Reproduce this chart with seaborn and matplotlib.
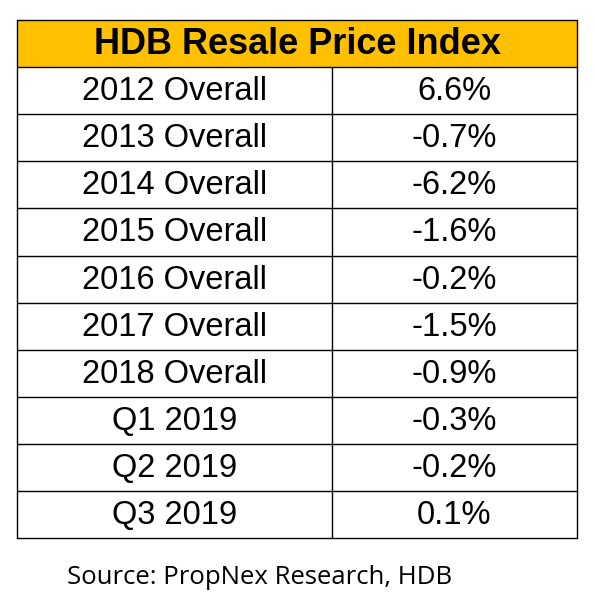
import matplotlib
matplotlib.use("Agg")
import matplotlib.pyplot as plt
import seaborn as sns
from matplotlib.patches import Rectangle

sns.set_style("white")
plt.rcParams['font.family'] = ['Liberation Sans', 'DejaVu Sans']
plt.rcParams['text.color'] = 'black'

title = "HDB Resale Price Index"
periods = ["2012 Overall", "2013 Overall", "2014 Overall", "2015 Overall", "2016 Overall",
           "2017 Overall", "2018 Overall", "Q1 2019", "Q2 2019", "Q3 2019"]
changes = ["6.6%", "-0.7%", "-6.2%", "-1.6%", "-0.2%", "-1.5%", "-0.9%", "-0.3%", "-0.2%", "0.1%"]
source = "Source: PropNex Research, HDB"

fig = plt.figure(figsize=(5.95, 5.99), dpi=100)
ax = fig.add_axes([0, 0, 1, 1])
ax.set_xlim(0, 595)
ax.set_ylim(599, 0)
ax.axis("off")

x0, x1, xm = 17, 577, 332
y0, rh = 20, 47.1
n = len(periods) + 1

ax.add_patch(Rectangle((x0, y0), x1 - x0, rh, facecolor="#FFC000", edgecolor="none"))
ax.text((x0 + x1) / 2, y0 + rh / 2 + 1, title, ha="center", va="center",
        fontsize=26, fontweight="bold", color="black")

for i, (p, c) in enumerate(zip(periods, changes), start=1):
    yc = y0 + rh * i + rh / 2 + 1
    ax.text((x0 + xm) / 2, yc, p, ha="center", va="center", fontsize=23.5, color="black")
    ax.text((xm + x1) / 2, yc, c, ha="center", va="center", fontsize=23.5, color="black")

for i in range(n + 1):
    y = y0 + rh * i
    ax.plot([x0, x1], [y, y], color="black", lw=1)
ax.plot([x0, x0], [y0, y0 + rh * n], color="black", lw=1)
ax.plot([x1, x1], [y0, y0 + rh * n], color="black", lw=1)
ax.plot([xm, xm], [y0 + rh, y0 + rh * n], color="black", lw=1)

ax.text(67, 577, source, ha="left", va="center", fontsize=18.5, color="black",
        family=["Open Sans", "DejaVu Sans"])

fig.savefig("out.png", dpi=100)
